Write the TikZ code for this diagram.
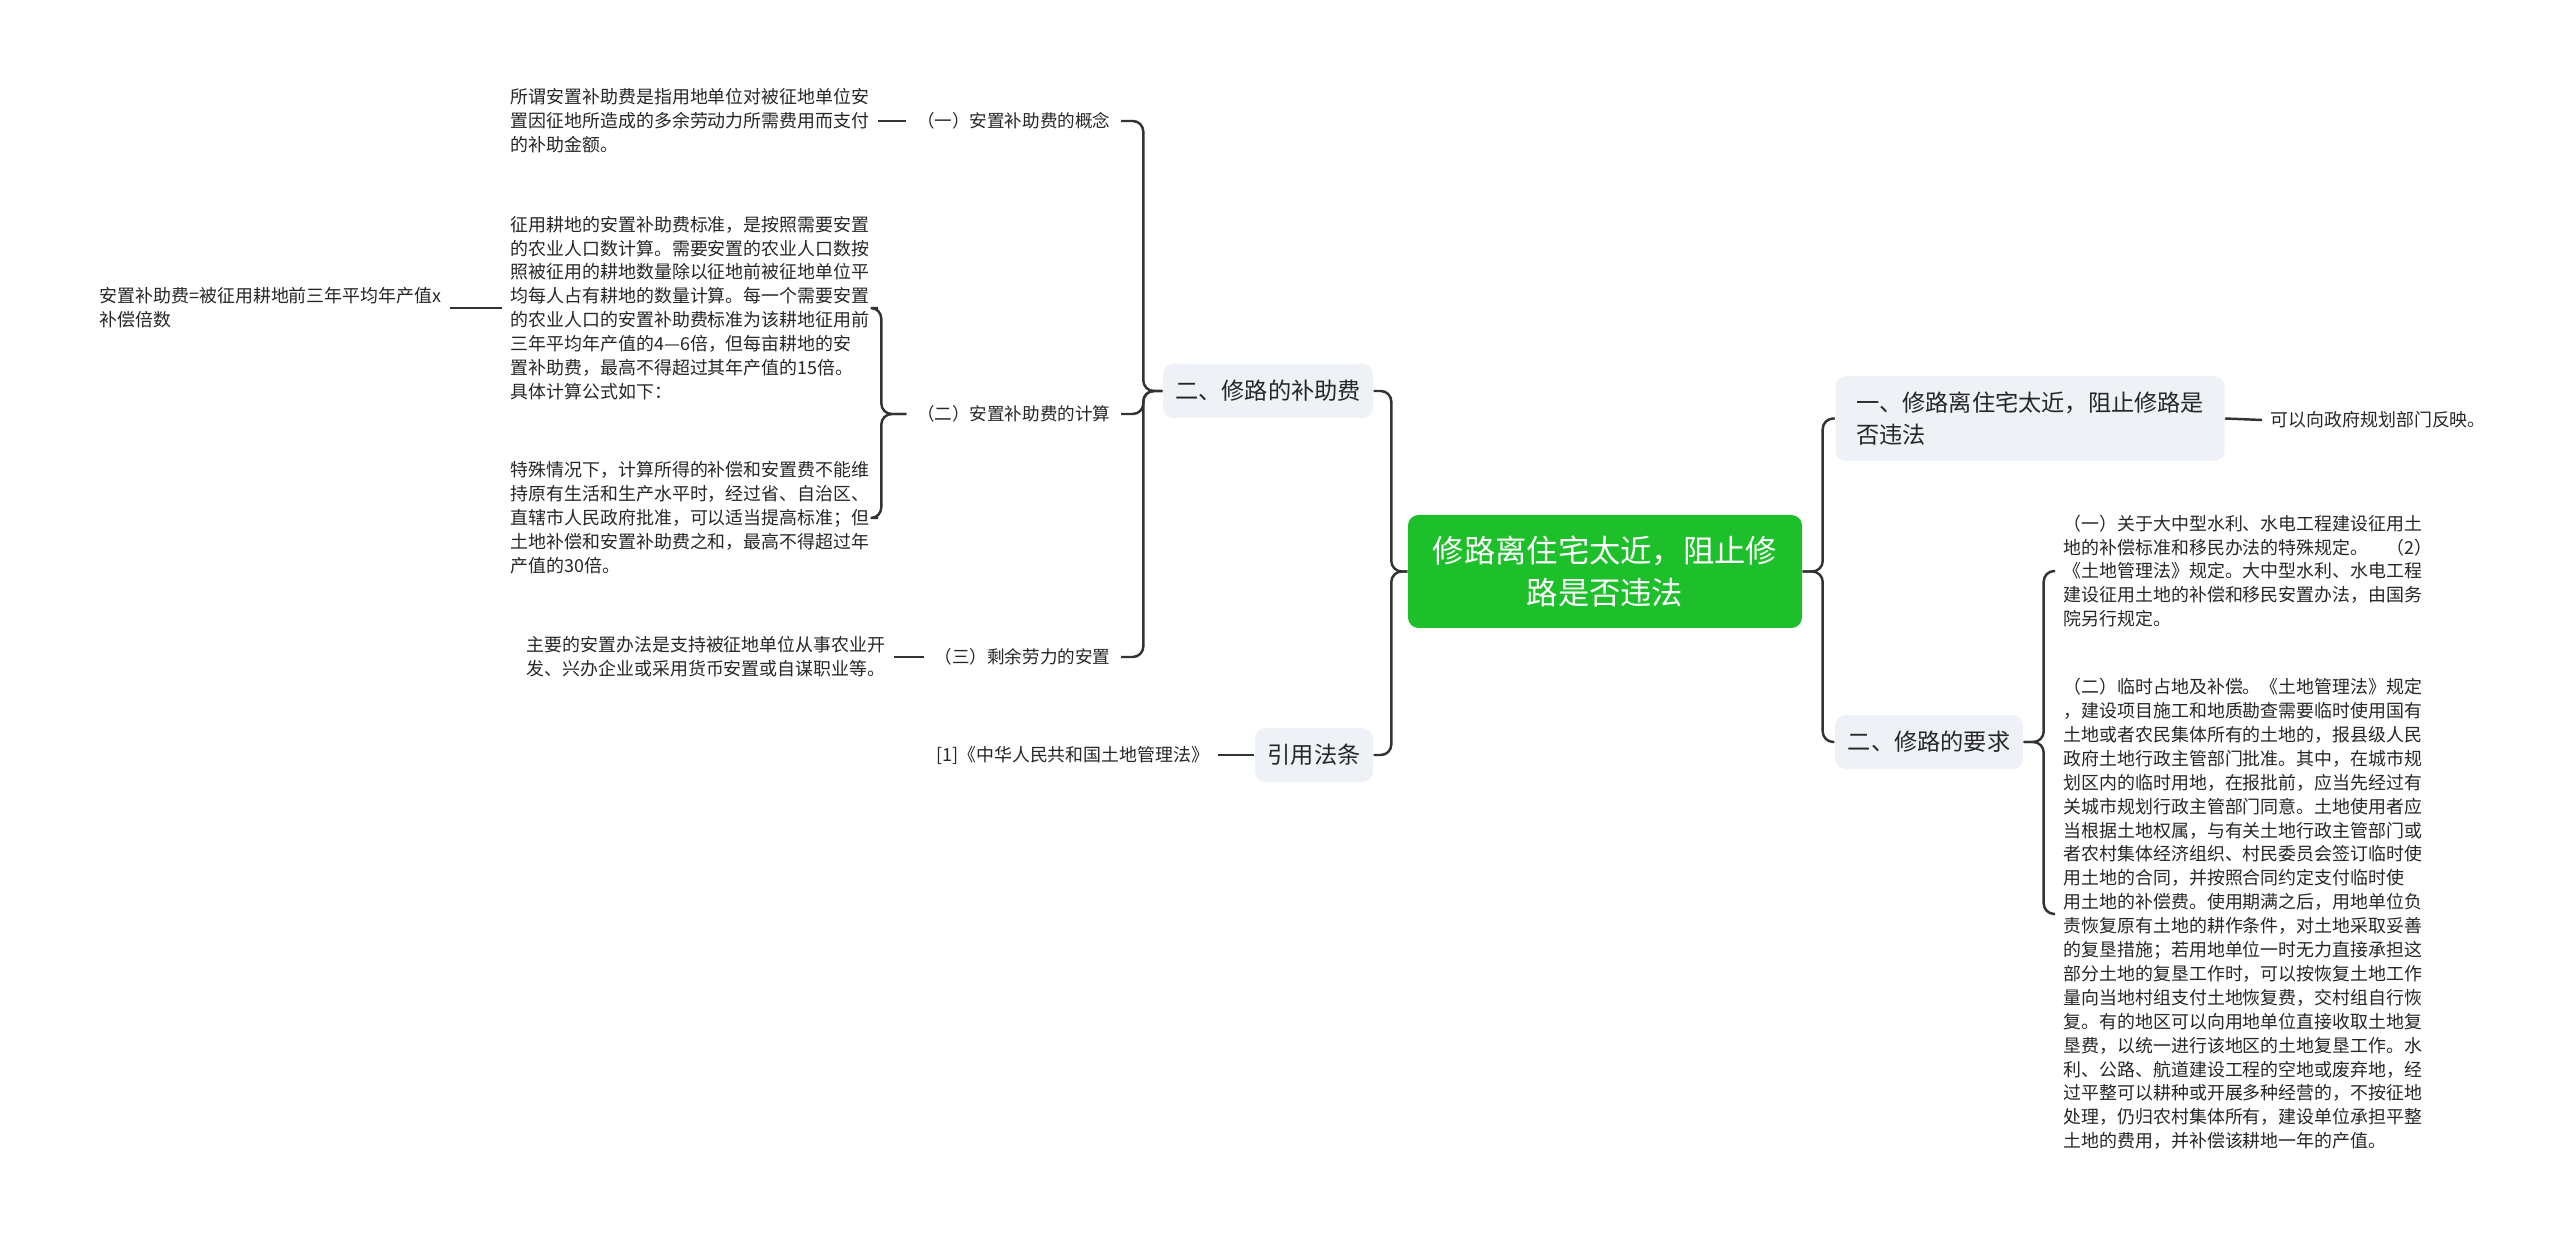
\documentclass[tikz,border=0pt]{standalone}
\usepackage{fontspec}
\setmainfont{Noto Sans CJK SC}
\usetikzlibrary{positioning}
\definecolor{rootgreen}{HTML}{1DBF2B}
\definecolor{boxgray}{HTML}{EEF1F5}
\definecolor{linegray}{HTML}{333333}
\tikzset{
  rootbox/.style={fill=rootgreen,rounded corners=3pt,text=white,align=center,minimum width=3.94cm,minimum height=1.13cm,font=\fontsize{8.9pt}{12pt}\selectfont},
  mainbox/.style={fill=boxgray,rounded corners=3pt,text=black!85,align=left,minimum height=0.54cm,inner xsep=0.12cm,font=\fontsize{6.6pt}{9pt}\selectfont},
  subtopic/.style={inner xsep=0.1cm,inner ysep=0.05cm,text=black!85,font=\fontsize{5pt}{6.8pt}\selectfont},
  leaf/.style={inner xsep=0.08cm,inner ysep=0.05cm,align=left,text=black!85,font=\fontsize{5.1pt}{6.8pt}\selectfont},
  link/.style={draw=linegray,line width=0.7pt,rounded corners=3pt}
}
\begin{document}
\begin{tikzpicture}
        \useasboundingbox (0,0) rectangle (25.6,-12.33);
        \node[rootbox] (root) at (16.05,-5.715) {修路离住宅太近，阻止修\\路是否违法};

        \node[mainbox,minimum width=2.1cm] (help) at (12.68,-3.91) {二、修路的补助费};
        \node[mainbox,minimum width=1.18cm] (cite) at (13.14,-7.55) {引用法条};
        \node[mainbox,minimum width=3.89cm,minimum height=0.85cm] (near) at (20.30,-4.185) {一、修路离住宅太近，阻止修路是\\否违法};
        \node[mainbox,minimum width=1.88cm] (need) at (19.29,-7.42) {二、修路的要求};

        \node[subtopic,anchor=east] (concept) at (11.21,-1.21) {（一）安置补助费的概念};
        \node[subtopic,anchor=east] (calc) at (11.21,-4.14) {（二）安置补助费的计算};
        \node[subtopic,anchor=east] (labor) at (11.21,-6.57) {（三）剩余劳力的安置};

        \node[leaf,anchor=east] (conceptTxt) at (8.78,-1.21) {所谓安置补助费是指用地单位对被征地单位安\\置因征地所造成的多余劳动力所需费用而支付\\的补助金额。};
        \node[leaf,anchor=east] (calcA) at (8.78,-3.08) {征用耕地的安置补助费标准，是按照需要安置\\的农业人口数计算。需要安置的农业人口数按\\照被征用的耕地数量除以征地前被征地单位平\\均每人占有耕地的数量计算。每一个需要安置\\的农业人口的安置补助费标准为该耕地征用前\\三年平均年产值的4—6倍，但每亩耕地的安\\置补助费，最高不得超过其年产值的15倍。\\具体计算公式如下：};
        \node[leaf,anchor=east] (calcB) at (8.78,-5.18) {特殊情况下，计算所得的补偿和安置费不能维\\持原有生活和生产水平时，经过省、自治区、\\直辖市人民政府批准，可以适当提高标准；但\\土地补偿和安置补助费之和，最高不得超过年\\产值的30倍。};
        \node[leaf,anchor=east] (formula) at (4.50,-3.08) {安置补助费=被征用耕地前三年平均年产值x\\补偿倍数};
        \node[leaf,anchor=east] (laborTxt) at (8.94,-6.57) {主要的安置办法是支持被征地单位从事农业开\\发、兴办企业或采用货币安置或自谋职业等。};
        \node[leaf,anchor=east] (law) at (12.18,-7.55) {[1]《中华人民共和国土地管理法》};

        \node[leaf,anchor=west] (report) at (22.62,-4.20) {可以向政府规划部门反映。};
        \node[leaf,anchor=west] (ruleA) at (20.55,-5.71) {（一）关于大中型水利、水电工程建设征用土\\地的补偿标准和移民办法的特殊规定。\quad（2）\\《土地管理法》规定。大中型水利、水电工程\\建设征用土地的补偿和移民安置办法，由国务\\院另行规定。};
        \node[leaf,anchor=west] (ruleB) at (20.55,-9.14) {（二）临时占地及补偿。《土地管理法》规定\\，建设项目施工和地质勘查需要临时使用国有\\土地或者农民集体所有的土地的，报县级人民\\政府土地行政主管部门批准。其中，在城市规\\划区内的临时用地，在报批前，应当先经过有\\关城市规划行政主管部门同意。土地使用者应\\当根据土地权属，与有关土地行政主管部门或\\者农村集体经济组织、村民委员会签订临时使\\用土地的合同，并按照合同约定支付临时使\\用土地的补偿费。使用期满之后，用地单位负\\责恢复原有土地的耕作条件，对土地采取妥善\\的复垦措施；若用地单位一时无力直接承担这\\部分土地的复垦工作时，可以按恢复土地工作\\量向当地村组支付土地恢复费，交村组自行恢\\复。有的地区可以向用地单位直接收取土地复\\垦费，以统一进行该地区的土地复垦工作。水\\利、公路、航道建设工程的空地或废弃地，经\\过平整可以耕种或开展多种经营的，不按征地\\处理，仍归农村集体所有，建设单位承担平整\\土地的费用，并补偿该耕地一年的产值。};

        % left side
        \foreach \kid in {help,cite}
            \draw[link] (root.west) -- ++(-0.16,0) |- (\kid.east);
        \foreach \kid in {concept,calc,labor}
            \draw[link] (help.west) -- ++(-0.19,0) |- (\kid.east);
        \foreach \kid in {calcA,calcB}
            \draw[link] (calc.west) -- ++(-0.25,0) |- (\kid.east);
        \draw[link] (concept.west) -- (conceptTxt.east);
        \draw[link] (labor.west) -- (laborTxt.east);
        \draw[link] (calcA.west) -- (formula.east);
        \draw[link] (cite.west) -- (law.east);

        % right side
        \foreach \kid in {near,need}
            \draw[link] (root.east) -- ++(0.2,0) |- (\kid.west);
        \foreach \kid in {ruleA,ruleB}
            \draw[link] (need.east) -- ++(0.2,0) |- (\kid.west);
        \draw[link] (near.east) -- (report.west);
\end{tikzpicture}
\end{document}
